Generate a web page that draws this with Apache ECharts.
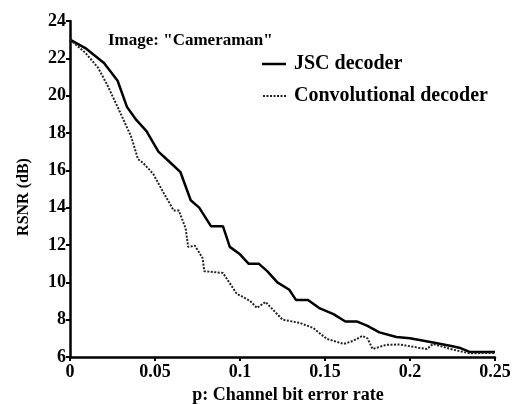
<!DOCTYPE html>
<html>
<head>
<meta charset="utf-8">
<script src="https://cdn.jsdelivr.net/npm/echarts@6/dist/echarts.min.js"></script>
<style>html,body{margin:0;padding:0;background:#fff}#c{width:516px;height:404px}</style>
</head>
<body>
<div id="c"></div>
<script>
var jscP = [0,0.009,0.02,0.028,0.0335,0.039,0.045,0.052,0.058,0.065,0.071,0.076,0.083,0.09,0.094,0.1,0.105,0.111,0.116,0.122,0.129,0.133,0.14,0.147,0.155,0.162,0.169,0.175,0.182,0.192,0.2,0.212,0.2235,0.229,0.235,0.25];
var jscRsnr = [23.0,22.55,21.75,20.8,19.4,18.7,18.1,17.0,16.5,15.9,14.4,14.0,13.0,13.0,11.9,11.5,11.0,11.0,10.6,10.0,9.6,9.05,9.05,8.6,8.3,7.9,7.9,7.67,7.32,7.07,7.0,6.8,6.6,6.5,6.27,6.27];
var convP = [0,0.009,0.0165,0.022,0.029,0.036,0.04,0.043,0.049,0.055,0.061,0.064,0.068,0.0695,0.0735,0.078,0.079,0.09,0.098,0.106,0.11,0.115,0.125,0.135,0.143,0.151,0.161,0.1665,0.172,0.175,0.178,0.186,0.194,0.205,0.21,0.2135,0.225,0.235,0.25];
var convRsnr = [23.0,22.3,21.5,20.56,19.2,17.8,16.6,16.4,15.8,14.8,13.85,13.85,12.9,11.9,11.96,11.3,10.6,10.5,9.4,9.0,8.63,8.95,8.0,7.83,7.56,6.97,6.7,6.86,7.13,7.0,6.43,6.65,6.67,6.5,6.43,6.7,6.4,6.2,6.22];
var seriesNames = ['JSC decoder','Convolutional decoder'];
var xTicks = [0,0.05,0.1,0.15,0.2,0.25];
var yTicks = [6,8,10,12,14,16,18,20,22,24];
var xTitle = 'p: Channel bit error rate';
var yTitle = 'RSNR (dB)';
var imageLabel = 'Image: "Cameraman"';

function pairs(xs, ys){ return xs.map(function(x,i){return [x, ys[i]];}); }
var font = 'Liberation Serif';
var chart = echarts.init(document.getElementById('c'), null, {renderer:'canvas'});
chart.setOption({
  backgroundColor:'#fff',
  animation:false,
  grid:{left:70,right:21,top:21,bottom:47},
  xAxis:{type:'value',min:0,max:0.25,interval:0.05,
    axisLine:{lineStyle:{color:'#000',width:2.5}},
    axisTick:{show:true,length:4,inside:false,lineStyle:{color:'#000',width:2}},
    axisLabel:{fontFamily:font,fontSize:18,fontWeight:'bold',color:'#000',margin:6,
      formatter:function(v){ var s = xTicks.filter(function(t){return Math.abs(t-v)<1e-9;}); return s.length? String(s[0]) : ''; }},
    splitLine:{show:false}},
  yAxis:{type:'value',min:6,max:24,interval:2,
    axisLine:{show:true,lineStyle:{color:'#000',width:2.5}},
    axisTick:{show:true,length:4,lineStyle:{color:'#000',width:2}},
    axisLabel:{fontFamily:font,fontSize:18,fontWeight:'bold',color:'#000',margin:4,
      formatter:function(v){ return yTicks.indexOf(Math.round(v))>=0 ? String(Math.round(v)) : ''; }},
    splitLine:{show:false}},
  graphic:[
    {type:'text',left:108,top:32,style:{text:imageLabel,font:'bold 17px "Liberation Serif"',fill:'#000'}},
    {type:'line',shape:{x1:262,y1:64,x2:286,y2:64},style:{stroke:'#000',lineWidth:2.5}},
    {type:'text',x:294,y:64,style:{text:seriesNames[0],font:'bold 20px "Liberation Serif"',fill:'#000',verticalAlign:'middle'}},
    {type:'line',shape:{x1:263,y1:96,x2:286,y2:96},style:{stroke:'#222',lineWidth:2,lineDash:[2,1.5]}},
    {type:'text',x:294,y:96,style:{text:seriesNames[1],font:'bold 20px "Liberation Serif"',fill:'#000',verticalAlign:'middle'}},
    {type:'text',x:24,y:197,rotation:Math.PI/2,style:{text:yTitle,font:'bold 16px "Liberation Serif"',fill:'#000',align:'center',verticalAlign:'middle'}},
    {type:'text',x:288,y:395,style:{text:xTitle,font:'bold 18px "Liberation Serif"',fill:'#000',align:'center',verticalAlign:'middle'}}
  ],
  series:[
    {name:seriesNames[0],type:'line',data:pairs(jscP,jscRsnr),showSymbol:false,symbol:'none',
      lineStyle:{color:'#000',width:2.5,type:'solid'},itemStyle:{color:'#000'}},
    {name:seriesNames[1],type:'line',data:pairs(convP,convRsnr),showSymbol:false,symbol:'none',
      lineStyle:{color:'#222',width:2,type:[2,1.5]},itemStyle:{color:'#222'}}
  ]
});
</script>
</body>
</html>
